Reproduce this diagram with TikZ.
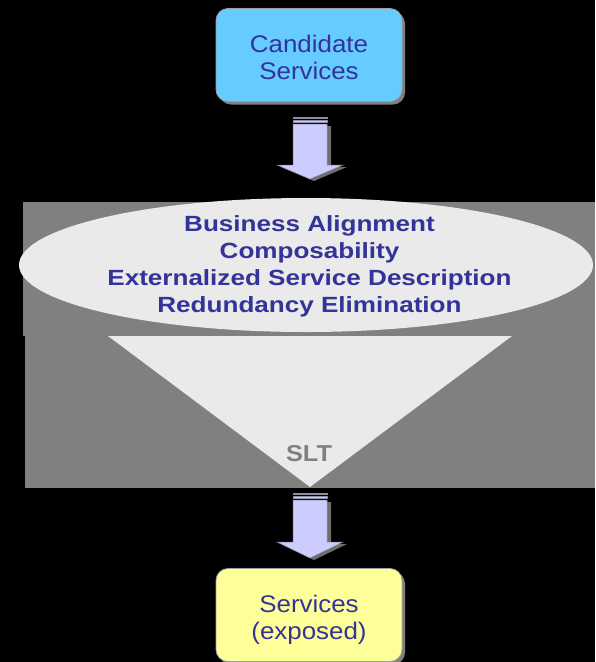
\documentclass[tikz,border=0pt]{standalone}
\usepackage{fontspec}
\setmainfont{Liberation Sans}
\newfontfamily\boxfont[FakeStretch=1.08]{Liberation Sans}
\newfontfamily\ellfont[FakeStretch=1.185]{Liberation Sans}
\newfontfamily\sltfont[FakeStretch=1.10]{Liberation Sans}
\usetikzlibrary{shapes.geometric,shadows}
\definecolor{txtblue}{HTML}{333399}
\definecolor{candcyan}{HTML}{66CCFF}
\definecolor{servyellow}{HTML}{FFFF99}
\definecolor{boxline}{HTML}{A0A0A0}
\definecolor{rectgray}{HTML}{808080}
\definecolor{ellgray}{HTML}{EAEAEA}
\definecolor{arrowfill}{HTML}{CCCCFF}
\definecolor{arrowline}{HTML}{8A8AA0}
\definecolor{arrowshadow}{HTML}{6E6E6E}
\begin{document}
\begin{tikzpicture}[x=1pt,y=-1pt,
  procbox/.style={rounded corners=12pt, draw=boxline, line width=0.8pt,
    minimum width=186pt, minimum height=93pt, inner sep=0pt,
    drop shadow={shadow xshift=3pt, shadow yshift=-3pt, fill=rectgray, opacity=1}},
  boxtext/.style={text=txtblue, align=center, inner sep=0pt,
    font=\boxfont\fontsize{24pt}{27pt}\selectfont},
  elltext/.style={text=txtblue, align=center, inner sep=0pt,
    font=\ellfont\bfseries\fontsize{22pt}{27pt}\selectfont},
  blockarrow/.pic={
    \fill[arrowshadow] (-13,9) -- (21,9) -- (21,50) -- (37,50) -- (4,64) -- (-29,50) -- (-13,50) -- cycle;
    \filldraw[fill=arrowfill, draw=arrowline, line width=0.5pt] (-17,0) rectangle (17,1.5);
    \filldraw[fill=arrowfill, draw=arrowline, line width=0.5pt] (-17,3.5) rectangle (17,5);
    \filldraw[fill=arrowfill, draw=arrowline, line width=0.5pt]
      (-17,7) -- (17,7) -- (17,48) -- (33,48) -- (0,62) -- (-33,48) -- (-17,48) -- cycle;
  },
  blockarrowlong/.pic={
    \fill[arrowshadow] (-13,9) -- (21,9) -- (21,51) -- (37,51) -- (4,67) -- (-29,51) -- (-13,51) -- cycle;
    \filldraw[fill=arrowfill, draw=arrowline, line width=0.5pt] (-17,0) rectangle (17,1.5);
    \filldraw[fill=arrowfill, draw=arrowline, line width=0.5pt] (-17,3.5) rectangle (17,5);
    \filldraw[fill=arrowfill, draw=arrowline, line width=0.5pt]
      (-17,7) -- (17,7) -- (17,49) -- (33,49) -- (0,65) -- (-33,49) -- (-17,49) -- cycle;
  }]
\useasboundingbox (0,0) rectangle (595,662);
\fill[black] (0,0) rectangle (595,662);

% top box
\node[procbox, fill=candcyan] (cand) at (309,55) {};
\node[boxtext] (candtext) at (309,57) {Candidate\\Services};

% arrow 1
\pic (arrA) at (310,117) {blockarrow};

% filter region
\fill[rectgray] (23,202) rectangle (595,336);
\fill[rectgray] (25,336) rectangle (595,488);
\node[ellipse, fill=ellgray, minimum width=574pt, minimum height=134pt, inner sep=0pt] (ell) at (306,265) {};
\coordinate (tl) at (108,336);
\coordinate (tr) at (512,336);
\coordinate (tip) at (310,487);
\fill[ellgray] (tl) -- (tr) -- (tip) -- cycle;
\node[elltext] (crit) at (309.5,266) {Business Alignment\\Composability\\Externalized Service Description\\Redundancy Elimination};
\node[text=rectgray, inner sep=0pt, font=\sltfont\bfseries\fontsize{23pt}{27pt}\selectfont] (slt) at (309,454) {SLT};

% arrow 2
\pic (arrB) at (310,493) {blockarrowlong};

% bottom box
\node[procbox, fill=servyellow] (serv) at (309,615) {};
\node[boxtext] (servtext) at (309,619.5) {Services\\(exposed)};
\end{tikzpicture}
\end{document}
